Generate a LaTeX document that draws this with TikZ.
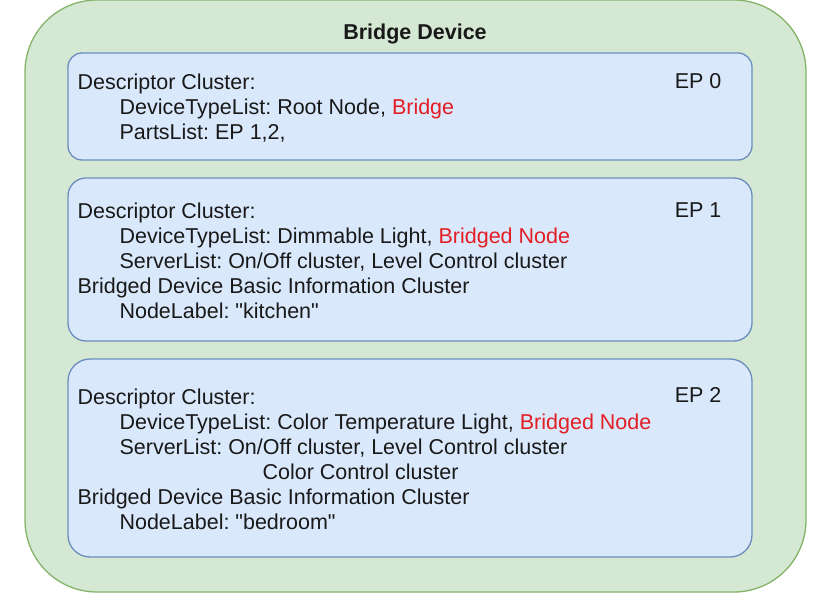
\documentclass[tikz,border=0pt]{standalone}
\usepackage{fontspec}
\setmainfont{Liberation Sans}
\newfontfamily\quotefont{Liberation Sans}
\usepackage{xcolor}
\usepackage{tikz}
\usetikzlibrary{positioning,calc}

\definecolor{devfill}{HTML}{D5E8D4}
\definecolor{devline}{HTML}{82B366}
\definecolor{epfill}{HTML}{DAE8FC}
\definecolor{epline}{HTML}{6C8EBF}
\definecolor{tagred}{HTML}{E31E24}
\newcommand{\redtxt}[1]{\textcolor{tagred}{#1}}
\newcommand{\dq}{{\quotefont\char34}}
\frenchspacing

\begin{document}
\begin{tikzpicture}[
  x=1pt, y=-1pt,
  font=\fontsize{21.5}{25}\selectfont,
  text=black!90,
  every node/.style={align=left},
  device/.style={draw=devline, fill=devfill, line width=1.3pt, rounded corners=72pt,
                 minimum width=781pt, minimum height=592pt, inner sep=0pt},
  title/.style={font=\fontsize{21.5}{25}\selectfont\bfseries},
  ep/.style={draw=epline, fill=epfill, line width=1.3pt, minimum width=684pt, inner sep=0pt},
  eptext/.style={inner sep=0pt, yshift=-1.5pt},
  eptag/.style={anchor=east, inner sep=0pt},
]
  \useasboundingbox (0,0) rectangle (828,594);

  \node[device] (dev)   at (415.5,296) {};
  \node[title]  (title) at (415,33.5)  {Bridge Device};

  % one box per endpoint
  \node[ep, minimum height=107pt, rounded corners=14pt] (ep0) at (410,106.5) {};
  \node[ep, minimum height=163pt, rounded corners=18pt] (ep1) at (410,259.5) {};
  \node[ep, minimum height=198pt, rounded corners=22pt] (ep2) at (410,458)   {};

  \node[eptext, right=10pt of ep0.west] (txt0)
       {Descriptor Cluster:\\
        \hspace*{42pt}DeviceTypeList: Root Node, \redtxt{Bridge}\\
        \hspace*{42pt}PartsList: EP 1,2,};
  \node[eptext, right=10pt of ep1.west] (txt1)
       {Descriptor Cluster:\\
        \hspace*{42pt}DeviceTypeList: Dimmable Light, \redtxt{Bridged Node}\\
        \hspace*{42pt}ServerList: On/Off cluster, Level Control cluster\\
        Bridged Device Basic Information Cluster\\
        \hspace*{42pt}NodeLabel: \dq kitchen\dq};
  \node[eptext, right=10pt of ep2.west] (txt2)
       {Descriptor Cluster:\\
        \hspace*{42pt}DeviceTypeList: Color Temperature Light, \redtxt{Bridged Node}\\
        \hspace*{42pt}ServerList: On/Off cluster, Level Control cluster\\
        \hspace*{185pt}Color Control cluster\\
        Bridged Device Basic Information Cluster\\
        \hspace*{42pt}NodeLabel: \dq bedroom\dq};

  \node[eptag] (tag0) at ($(ep0.north east)+(-31,29)$) {EP 0};
  \node[eptag] (tag1) at ($(ep1.north east)+(-31,33)$) {EP 1};
  \node[eptag] (tag2) at ($(ep2.north east)+(-31,37)$) {EP 2};
\end{tikzpicture}
\end{document}
